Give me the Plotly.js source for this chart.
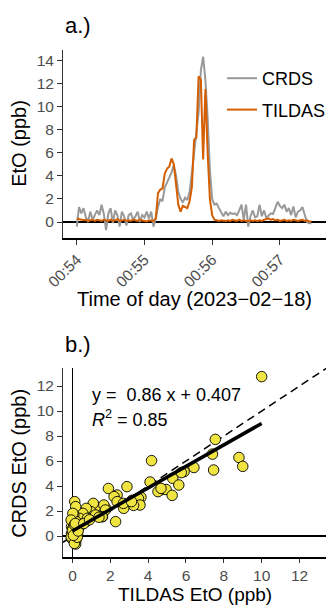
<!DOCTYPE html>
<html>
<head>
<meta charset="utf-8">
<script src="https://cdn.plot.ly/plotly-3.0.1.min.js"></script>
<style>html,body{margin:0;padding:0;background:#fff;}#chart{width:331px;height:606px;}</style>
</head>
<body>
<div id="chart"></div>
<script>
// ---------- Panel a: time series (2-second samples starting 00:54:00) ----------
const seriesStart = '2023-02-18 00:54:00';
const sampleStepSeconds = 2;
const crdsEtO = [
  -0.4, 1.3, 0.75, 1.2, 0.45, 0.0, 0.9, 0.2, 0.6, 1.0,
  0.6, 1.5, 0.7, -0.7, 0.75, 1.2, -0.1, 1.0, 0.6, -0.4,
  0.9, 0.5, -0.3, 0.6, 0.75, 0.2, 0.5, 0.9, 0.0, 0.6,
  0.4, 0.9, 0.3, 0.9, -0.4, 0.3, 1.3, 2.0, 1.8, 3.0,
  3.4, 3.8, 4.3, 4.9, 4.0, 2.6, 2.0, 1.7, 2.1, 1.9,
  2.6, 4.2, 6.0, 7.6, 9.5, 13.1, 14.3, 12.3, 9.0, 4.5,
  2.0, 1.5, 1.6, 1.2, 0.8, 0.5, 0.9, 0.6, 0.8, 0.7,
  0.75, 0.6, 1.0, 1.5, 0.2, 1.5, -0.4, 0.5, 1.0, 0.4,
  0.5, 1.5, 0.5, 1.0, 0.35, 0.6, 0.75, 0.7, 1.2, 1.75,
  1.4, 1.2, 1.5, 0.9, 1.2, 0.6, 1.35, 0.4, 0.9, 1.0,
  1.3, 0.6, 0.0, -0.1, -0.1
];
const tildasEtO = [
  0.3, 0.25, 0.2, 0.15, 0.2, 0.1, 0.15, 0.2, 0.1, 0.2,
  0.15, 0.1, 0.2, 0.15, 0.1, 0.2, 0.1, 0.15, 0.25, 0.1,
  0.15, 0.2, 0.1, 0.15, 0.1, 0.2, 0.15, 0.1, 0.2, 0.15,
  0.1, 0.05, 0.15, 0.1, 0.1, 0.3, 2.5, 2.8, 2.9, 4.2,
  4.6, 4.8, 5.5, 5.0, 3.5, 1.5, 0.9, 1.4, 1.3, 1.2,
  1.8, 3.0, 7.1, 7.3, 12.6, 12.3, 5.4, 11.5, 6.0, 2.0,
  0.6, 0.2, 0.15, 0.1, 0.15, 0.1, 0.1, 0.15, 0.1, 0.2,
  0.15, 0.1, 0.2, 0.1, 0.15, 0.1, 0.05, 0.15, 0.1, 0.15,
  0.1, 0.15, 0.1, 0.2, 0.25, 0.3, 0.2, 0.25, 0.15, 0.2,
  0.1, 0.15, 0.2, 0.1, 0.15, 0.1, 0.2, 0.15, 0.1, 0.15,
  0.2, 0.1, 0.15, 0.05, 0.05
];
const timeTicks = ['2023-02-18 00:54:00','2023-02-18 00:55:00','2023-02-18 00:56:00','2023-02-18 00:57:00'];
const timeTickLabels = ['00:54','00:55','00:56','00:57'];

// ---------- Panel b: scatter of matched samples ----------
const tildasScatter = [
  10.0, 7.55, 7.4, 8.8, 9.0, 7.46, 4.18, 6.42, 5.9, 5.75,
  5.3, 5.62, 4.1, 4.7, 4.95, 4.52, 5.27, 2.88, 1.9, 2.36,
  2.2, 3.62, 2.36, 2.8, 3.14, 3.49, 3.57, 3.23, 2.71, 2.28,
  1.59, 1.76, 1.24, 1.1, 0.98, 0.73, 0.55, 0.38, 0.12, 0.17,
  0.07, 0.2, -0.05, -0.05, 0.12, 0.17, -0.05, 0.2, 0.29, 0.02,
  -0.07, 0.02, 0.19, -0.07, 0.19, 0.1, 0.27, 0.45, 0.79, 1.22,
  1.66, 1.74, 1.57, 2.69, 3.12, 4.68, 0.0, 0.1, 0.25, 0.05,
  0.3, 0.15, 0.6, 1.4, 0.9
];
const crdsScatter = [
  12.75, 7.73, 6.55, 6.28, 5.57, 5.28, 6.03, 5.48, 5.15, 5.07,
  4.61, 4.08, 4.32, 3.7, 3.72, 3.55, 3.25, 3.95, 3.8, 3.28,
  3.15, 3.1, 2.75, 2.48, 2.85, 3.0, 2.48, 2.45, 2.21, 1.15,
  1.55, 2.21, 2.35, 2.61, 1.95, 2.21, 1.81, 1.41, 2.75, 2.35,
  1.68, 1.15, 0.75, 0.2, -0.32, -0.64, -0.19, 0.35, 0.62, 1.81,
  1.28, 0.61, 0.21, -0.05, -0.32, -0.59, 0.08, 0.88, 1.41, 1.68,
  2.48, 2.08, 1.55, 2.61, 2.75, 3.81, 0.45, 0.9, -0.1, 0.05,
  0.4, 1.0, 1.0, 1.5, 1.3
];
const fitSlope = 0.86;
const fitIntercept = 0.407;
const fitR2 = 0.85;
const fitXRange = [0, 10];
const oneToOneRange = [-0.5, 13.4];

function timeAt(i) {
  const total = 54 * 60 + i * sampleStepSeconds;
  const mm = Math.floor(total / 60), ss = total % 60;
  return '2023-02-18 00:' + String(mm).padStart(2, '0') + ':' + String(ss).padStart(2, '0');
}
const times = crdsEtO.map((_, i) => timeAt(i));

const fitY = fitXRange.map(x => fitSlope * x + fitIntercept);

const traces = [
  {x: times, y: crdsEtO, type: 'scatter', mode: 'lines', name: 'CRDS', legendgroup: 'g1',
   line: {color: '#999999', width: 2}, xaxis: 'x', yaxis: 'y'},
  {x: times, y: tildasEtO, type: 'scatter', mode: 'lines', name: 'TILDAS', legendgroup: 'g2',
   line: {color: '#D55E00', width: 2}, xaxis: 'x', yaxis: 'y'},
  {x: oneToOneRange, y: oneToOneRange, type: 'scatter', mode: 'lines', showlegend: false,
   line: {color: '#000', width: 1.5, dash: '8px,5px'}, xaxis: 'x2', yaxis: 'y2'},
  {x: tildasScatter, y: crdsScatter, type: 'scatter', mode: 'markers', showlegend: false,
   marker: {color: '#F0E442', size: 10.5, line: {color: '#000', width: 0.9}}, xaxis: 'x2', yaxis: 'y2'},
  {x: fitXRange, y: fitY, type: 'scatter', mode: 'lines', showlegend: false,
   line: {color: '#000', width: 3.5}, xaxis: 'x2', yaxis: 'y2'}
];

const tickFont = {size: 15.5, color: '#4D4D4D'};
const titleFont = {size: 20, color: '#000'};
const H = 606, L = 63, W = 268;
const px = v => (v - L) / W;
const py = v => 1 - v / H;

const layout = {
  width: 331, height: 606,
  margin: {l: 63, r: 0, t: 0, b: 0},
  paper_bgcolor: '#fff', plot_bgcolor: '#fff',
  font: {family: 'Liberation Sans, Arial, Helvetica, sans-serif', color: '#000'},
  showlegend: true,
  legend: {x: px(225), y: py(60), xanchor: 'left', yanchor: 'top', font: {size: 18, color: '#000'},
           bgcolor: 'rgba(0,0,0,0)', traceorder: 'grouped', tracegroupgap: 5},
  xaxis: {domain: [0, 1], anchor: 'y', type: 'date',
          range: ['2023-02-18 00:53:47.8', '2023-02-18 00:57:40.9'],
          tickmode: 'array', tickvals: timeTicks, ticktext: timeTickLabels, tickangle: -45,
          ticks: 'outside', ticklen: 5, tickcolor: '#333', tickwidth: 1,
          showline: true, linecolor: '#000', linewidth: 1.5, showgrid: false, zeroline: false,
          tickfont: tickFont},
  yaxis: {domain: [py(238), py(50)], anchor: 'x', range: [-1.38, 14.87], tickmode: 'linear', tick0: 0, dtick: 2,
          ticks: 'outside', ticklen: 5, tickcolor: '#333', tickwidth: 1,
          showline: true, linecolor: '#333', linewidth: 1, showgrid: false,
          zeroline: true, zerolinecolor: '#000', zerolinewidth: 1.3, tickfont: tickFont},
  xaxis2: {domain: [0, 1], anchor: 'y2', range: [-0.5, 13.4], tickmode: 'linear', tick0: 0, dtick: 2,
           ticks: 'outside', ticklen: 4, tickcolor: '#333', tickwidth: 1,
           showline: true, linecolor: '#000', linewidth: 1.5, showgrid: false,
           zeroline: true, zerolinecolor: '#000', zerolinewidth: 1.3, tickfont: tickFont},
  yaxis2: {domain: [py(557), py(368)], anchor: 'x2', range: [-1.68, 13.44], tickmode: 'linear', tick0: 0, dtick: 2,
           ticks: 'outside', ticklen: 5, tickcolor: '#333', tickwidth: 1,
           showline: true, linecolor: '#333', linewidth: 1, showgrid: false,
           zeroline: true, zerolinecolor: '#000', zerolinewidth: 1.3, tickfont: tickFont},
  annotations: [
    {text: 'a.)', xref: 'paper', yref: 'paper', x: px(63), y: py(26), xanchor: 'left', yanchor: 'middle',
     showarrow: false, font: {size: 22}},
    {text: 'b.)', xref: 'paper', yref: 'paper', x: px(63), y: py(345), xanchor: 'left', yanchor: 'middle',
     showarrow: false, font: {size: 22}},
    {text: 'EtO (ppb)', xref: 'paper', yref: 'paper', x: px(18), y: py(143), textangle: -90,
     xanchor: 'center', yanchor: 'middle', showarrow: false, font: titleFont},
    {text: 'Time of day (2023\u221202\u221218)', xref: 'paper', yref: 'paper', x: px(197), y: py(299),
     xanchor: 'center', yanchor: 'middle', showarrow: false, font: titleFont},
    {text: 'CRDS EtO (ppb)', xref: 'paper', yref: 'paper', x: px(18), y: py(463), textangle: -90,
     xanchor: 'center', yanchor: 'middle', showarrow: false, font: titleFont},
    {text: 'TILDAS EtO (ppb)', xref: 'paper', yref: 'paper', x: px(197), y: py(606),
     xanchor: 'center', yanchor: 'bottom', showarrow: false, borderpad: 0, font: {size: 19, color: '#000'}},
    {text: 'y = \u00a0' + fitSlope.toFixed(2) + ' x + ' + fitIntercept.toFixed(3), xref: 'x2', yref: 'y2',
     x: 0.95, y: 11.28, xanchor: 'left', yanchor: 'middle', showarrow: false, font: {size: 18}},
    {text: '<i>R</i><sup>2</sup> = ' + fitR2.toFixed(2), xref: 'x2', yref: 'y2',
     x: 0.95, y: 9.44, xanchor: 'left', yanchor: 'middle', showarrow: false, font: {size: 18}}
  ]
};

Plotly.newPlot('chart', traces, layout, {staticPlot: true, displayModeBar: false});
</script>
</body>
</html>
